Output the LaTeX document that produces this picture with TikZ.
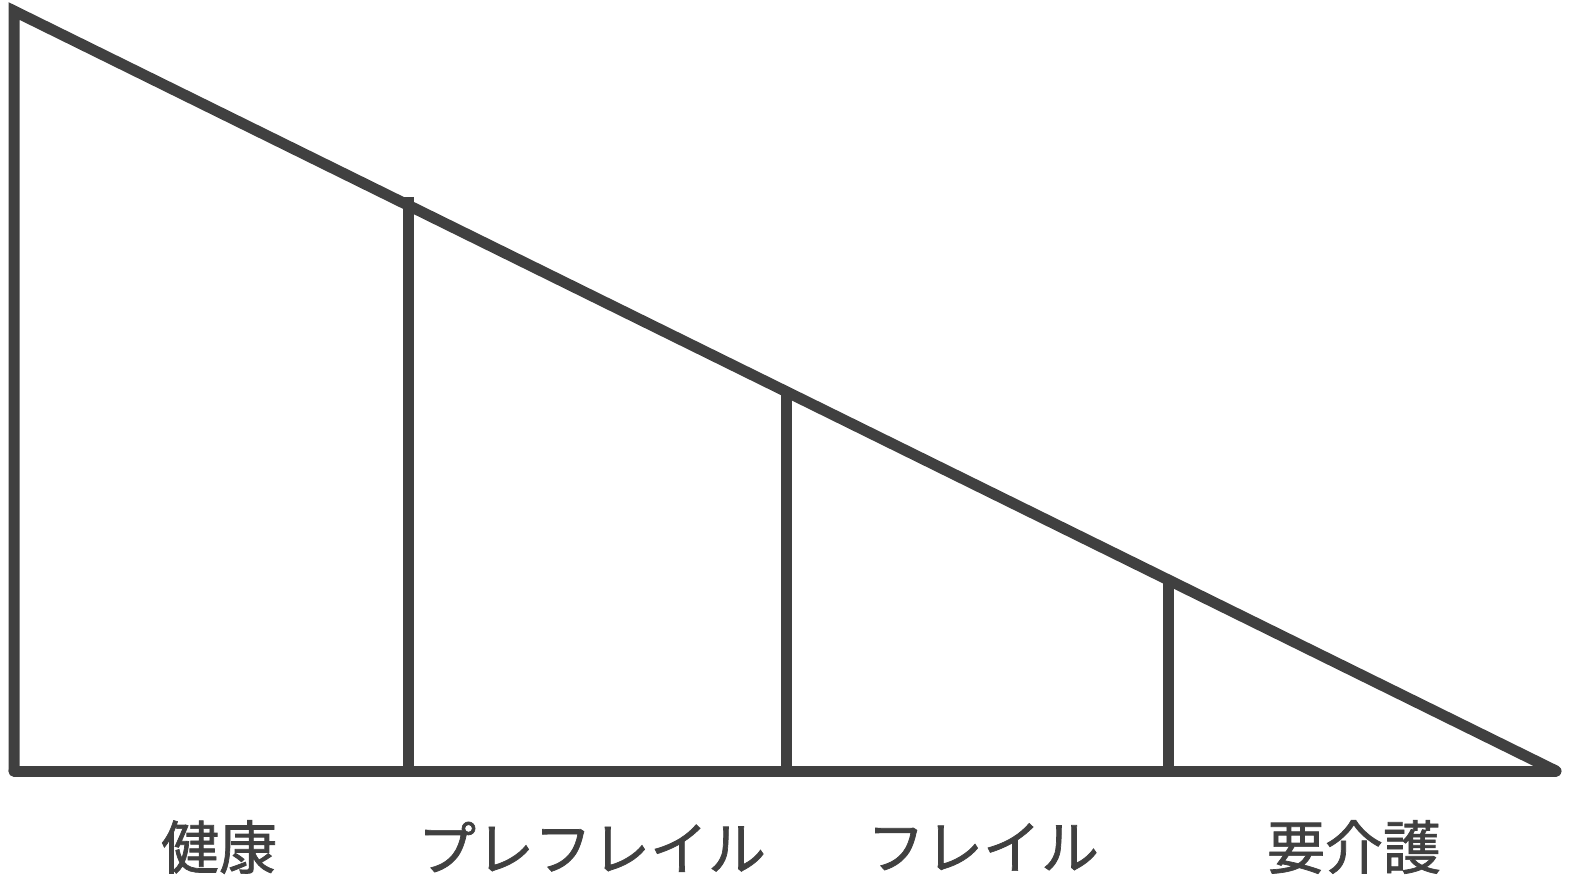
\documentclass[tikz,border=0pt]{standalone}
\usepackage{fontspec}
\newfontfamily\jpfont[FakeBold=1.2]{Noto Sans CJK JP}
\definecolor{ink}{HTML}{404040}
\tikzset{
  edge/.style={draw=ink, line width=11pt, line join=miter, line cap=round},
  divider/.style={draw=ink, line width=11pt, line cap=butt},
  lbl/.style={text=ink, font=\jpfont\fontsize{58}{62}\selectfont, inner sep=0pt, anchor=center}
}
\begin{document}
\begin{tikzpicture}[x=1pt,y=1pt]
\useasboundingbox (0,0) rectangle (1571,879);
% corners (y flipped: y_tikz = 879 - y_img)
\coordinate (A) at (14,868);
\coordinate (B) at (14,108);
\coordinate (C) at (1556,108);
\draw[edge] (C) -- (A) -- (B);
\draw[edge] (B) -- (C);
% dividers
\coordinate (d1t) at (408,682);
\coordinate (d1b) at (408,108);
\coordinate (d2t) at (786,488);
\coordinate (d2b) at (786,108);
\coordinate (d3t) at (1168,299);
\coordinate (d3b) at (1168,108);
\draw[divider] (d1t) -- (d1b);
\draw[divider] (d2t) -- (d2b);
\draw[divider] (d3t) -- (d3b);
% labels
\node[lbl] (l1) at (219,32) {健康};
\node[lbl] (l2) at (592,32) {プレフレイル};
\node[lbl] (l3) at (983,32) {フレイル};
\node[lbl] (l4) at (1354,32) {要介護};
\end{tikzpicture}
\end{document}
